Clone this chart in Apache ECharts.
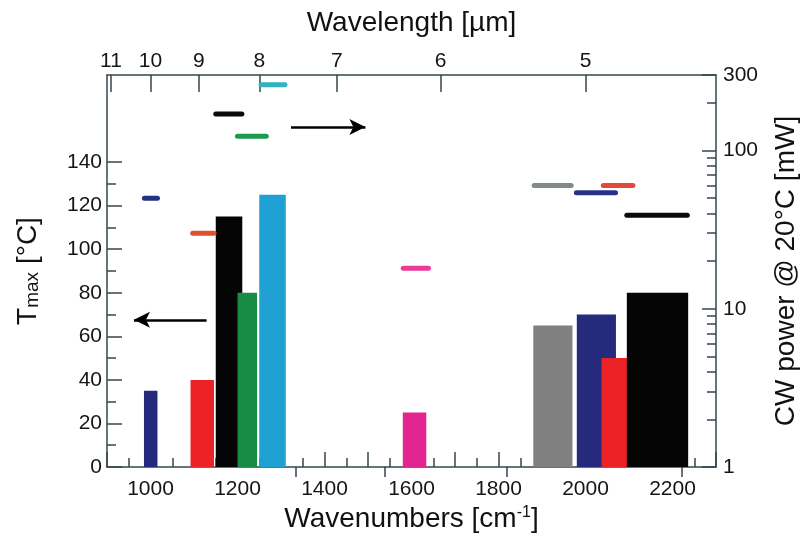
<!DOCTYPE html>
<html>
<head>
<meta charset="utf-8">
<script src="https://cdn.jsdelivr.net/npm/echarts@6/dist/echarts.min.js"></script>
<style>html,body{margin:0;padding:0;background:#fff}#c{width:803px;height:544px}</style>
</head>
<body>
<div id="c"></div>
<script>
// ---- data ----
const barStart = [985, 1092, 1150, 1200, 1250, 1580, 1880, 1980, 2037, 2095];
const barEnd   = [1016, 1146, 1211, 1245, 1311, 1634, 1970, 2070, 2111, 2236];
const tmaxValues = [35, 40, 115, 80, 125, 25, 65, 70, 50, 80];
const barColors = ['#262a7c', '#ec2326', '#050505', '#188c45', '#1fa2d3', '#e3258f', '#808080', '#262a7c', '#ec2326', '#050505'];

const segStart = [986, 1097, 1150, 1200, 1254, 1581, 1882, 1979, 2041, 2095];
const segEnd   = [1016, 1146, 1210, 1266, 1309, 1639, 1967, 2069, 2109, 2234];
const powerValues = [50, 30, 170, 123, 260, 18, 60, 54, 60, 39];
const segColors = ['#263080', '#e0522e', '#0a0a0a', '#1c9a50', '#2fb4c4', '#ec3a9a', '#808a8a', '#28308a', '#e4483a', '#0a0a0a'];

const xLabelValues = [1000, 1200, 1400, 1600, 1800, 2000, 2200];
const wavelengthLabels = [11, 10, 9, 8, 7, 6, 5];
const wavelengthMinor = [7.5, 6.5, 5.5, 4.5];
const tmaxLabels = [0, 20, 40, 60, 80, 100, 120, 140];
const tmaxMinor = [10, 30, 50, 70, 90, 110, 130];
const powerLabels = [1, 10, 100, 300];
const powerMinor = [2, 3, 4, 5, 6, 7, 8, 9, 20, 30, 40, 50, 60, 70, 80, 90, 200];

// arrows: [x0, x1, value]
const leftArrow = [1129, 962, 67.6];
const rightArrow = [1323, 1494, 141];

// ---- chart ----
const FONT = 'Liberation Sans, Arial, Helvetica, sans-serif';
const AX = '#34464e';
const chart = echarts.init(document.getElementById('c'), null, {renderer: 'canvas'});

function renderBar(params, api) {
  const p0 = api.coord([api.value(0), api.value(2)]);
  const p1 = api.coord([api.value(1), 0]);
  return {type: 'rect', shape: {x: p0[0], y: p0[1], width: p1[0] - p0[0], height: p1[1] - p0[1]},
    style: {fill: barColors[params.dataIndex]}};
}
function renderSeg(params, api) {
  const p0 = api.coord([api.value(0), api.value(2)]);
  const p1 = api.coord([api.value(1), api.value(2)]);
  return {type: 'line', shape: {x1: p0[0], y1: p0[1], x2: p1[0], y2: p1[1]},
    style: {stroke: segColors[params.dataIndex], lineWidth: 5, lineCap: 'round'}};
}

const hiddenAxis = {axisLine: {show: false}, axisLabel: {show: false}, splitLine: {show: false}};
const lineSt = {lineStyle: {color: AX, width: 1.5}};
const labelSt = {color: '#151515', fontSize: 21, fontFamily: FONT};

const option = {
  animation: false,
  grid: {left: 107, right: 87, top: 75, bottom: 77, containLabel: false, outerBoundsMode: 'none'},
  xAxis: [
    {type: 'value', min: 900, max: 2300, interval: 100, position: 'bottom',
     axisLine: {show: true, onZero: false, ...lineSt}, splitLine: {show: false},
     axisTick: {show: true, inside: true, length: 15, lineStyle: {color: AX, width: 1.5}},
     minorTick: {show: true, splitNumber: 2, length: 9, lineStyle: {color: AX, width: 1.5}},
     axisLabel: {...labelSt, margin: 12, showMinLabel: true, showMaxLabel: true, hideOverlap: false,
       formatter: v => (xLabelValues.indexOf(Math.round(v)) >= 0 ? String(Math.round(v)) : '')},
     name: '{a|Wavenumbers [cm}{s|-1}{a|]}', nameLocation: 'middle', nameGap: 36,
     nameTextStyle: {fontFamily: FONT, color: '#111', rich: {
       a: {fontSize: 28, fontFamily: FONT, color: '#111'},
       s: {fontSize: 16, fontFamily: FONT, color: '#111', verticalAlign: 'top', padding: [0, 0, 12, 0]}}}},
    {type: 'value', min: 900, max: 2300, position: 'top',
     axisLine: {show: true, onZero: false, ...lineSt}, splitLine: {show: false},
     axisTick: {show: true, inside: true, length: 17, customValues: wavelengthLabels.map(w => 10000 / w), lineStyle: {color: AX, width: 1.5}},
     axisLabel: {...labelSt, margin: 3, customValues: wavelengthLabels.map(w => 10000 / w),
       formatter: v => String(Math.round(10000 / v))},
     name: 'Wavelength [\u00b5m]', nameLocation: 'middle', nameGap: 38,
     nameTextStyle: {fontFamily: FONT, fontSize: 28, color: '#111'}},
    {type: 'value', min: 900, max: 2300, position: 'top', ...hiddenAxis,
     axisTick: {show: true, inside: true, length: 10, customValues: wavelengthMinor.map(w => 10000 / w), lineStyle: {color: AX, width: 1.5}}}
  ],
  yAxis: [
    {type: 'value', min: 0, max: 180, position: 'left',
     axisLine: {show: true, onZero: false, ...lineSt}, splitLine: {show: false},
     axisTick: {show: true, inside: true, length: 15, customValues: tmaxLabels, lineStyle: {color: AX, width: 1.5}},
     axisLabel: {...labelSt, margin: 5, customValues: tmaxLabels},
     name: '{a|T}{s|max}{a| [\u00b0C]}', nameLocation: 'middle', nameGap: 65, nameRotate: 90,
     nameTextStyle: {fontFamily: FONT, color: '#111', rich: {
       a: {fontSize: 28, fontFamily: FONT, color: '#111'},
       s: {fontSize: 19, fontFamily: FONT, color: '#111', verticalAlign: 'bottom', padding: [8, 0, 0, 0]}}}},
    {type: 'log', logBase: 10, min: 1, max: 300, position: 'right',
     axisLine: {show: true, onZero: false, ...lineSt}, splitLine: {show: false},
     axisTick: {show: false}, axisLabel: {show: false}},
    {type: 'value', min: 0, max: Math.log10(300), position: 'right', axisLine: {show: false}, splitLine: {show: false},
     axisTick: {show: true, inside: true, length: 14, customValues: powerLabels.map(v => Math.log10(v)), lineStyle: {color: AX, width: 1.5}},
     axisLabel: {...labelSt, margin: 7, customValues: powerLabels.map(v => Math.log10(v)),
       formatter: v => String(Math.round(Math.pow(10, v)))},
     name: 'CW power @ 20\u00b0C [mW]', nameLocation: 'middle', nameGap: 56, nameRotate: 90,
     nameTextStyle: {fontFamily: FONT, fontSize: 28, color: '#111'}},
    {type: 'value', min: 0, max: Math.log10(300), position: 'right', ...hiddenAxis,
     axisTick: {show: true, inside: true, length: 9, customValues: powerMinor.map(v => Math.log10(v)), lineStyle: {color: AX, width: 1.5}}},
    {type: 'value', min: 0, max: 180, position: 'left', ...hiddenAxis,
     axisTick: {show: true, inside: true, length: 9, customValues: tmaxMinor, lineStyle: {color: AX, width: 1.5}}}
  ],
  series: [
    {type: 'custom', name: 'Tmax', xAxisIndex: 0, yAxisIndex: 0, renderItem: renderBar,
     encode: {x: [0, 1], y: 2},
     data: barStart.map((s, i) => [s, barEnd[i], tmaxValues[i]])},
    {type: 'custom', name: 'CW power', xAxisIndex: 0, yAxisIndex: 1, renderItem: renderSeg,
     encode: {x: [0, 1], y: 2},
     data: segStart.map((s, i) => [s, segEnd[i], powerValues[i]])},
    {type: 'line', xAxisIndex: 0, yAxisIndex: 0, data: [], silent: true,
     markLine: {silent: true, symbol: ['none', 'arrow'], symbolSize: [12, 16], label: {show: false},
       lineStyle: {color: '#000', width: 2.5, type: 'solid'},
       data: [[{coord: [leftArrow[0], leftArrow[2]]}, {coord: [leftArrow[1], leftArrow[2]]}]]}},
    {type: 'line', xAxisIndex: 0, yAxisIndex: 1, data: [], silent: true,
     markLine: {silent: true, symbol: ['none', 'arrow'], symbolSize: [12, 16], label: {show: false},
       lineStyle: {color: '#000', width: 2.5, type: 'solid'},
       data: [[{coord: [rightArrow[0], rightArrow[2]]}, {coord: [rightArrow[1], rightArrow[2]]}]]}}
  ]
};
chart.setOption(option);
</script>
</body>
</html>
